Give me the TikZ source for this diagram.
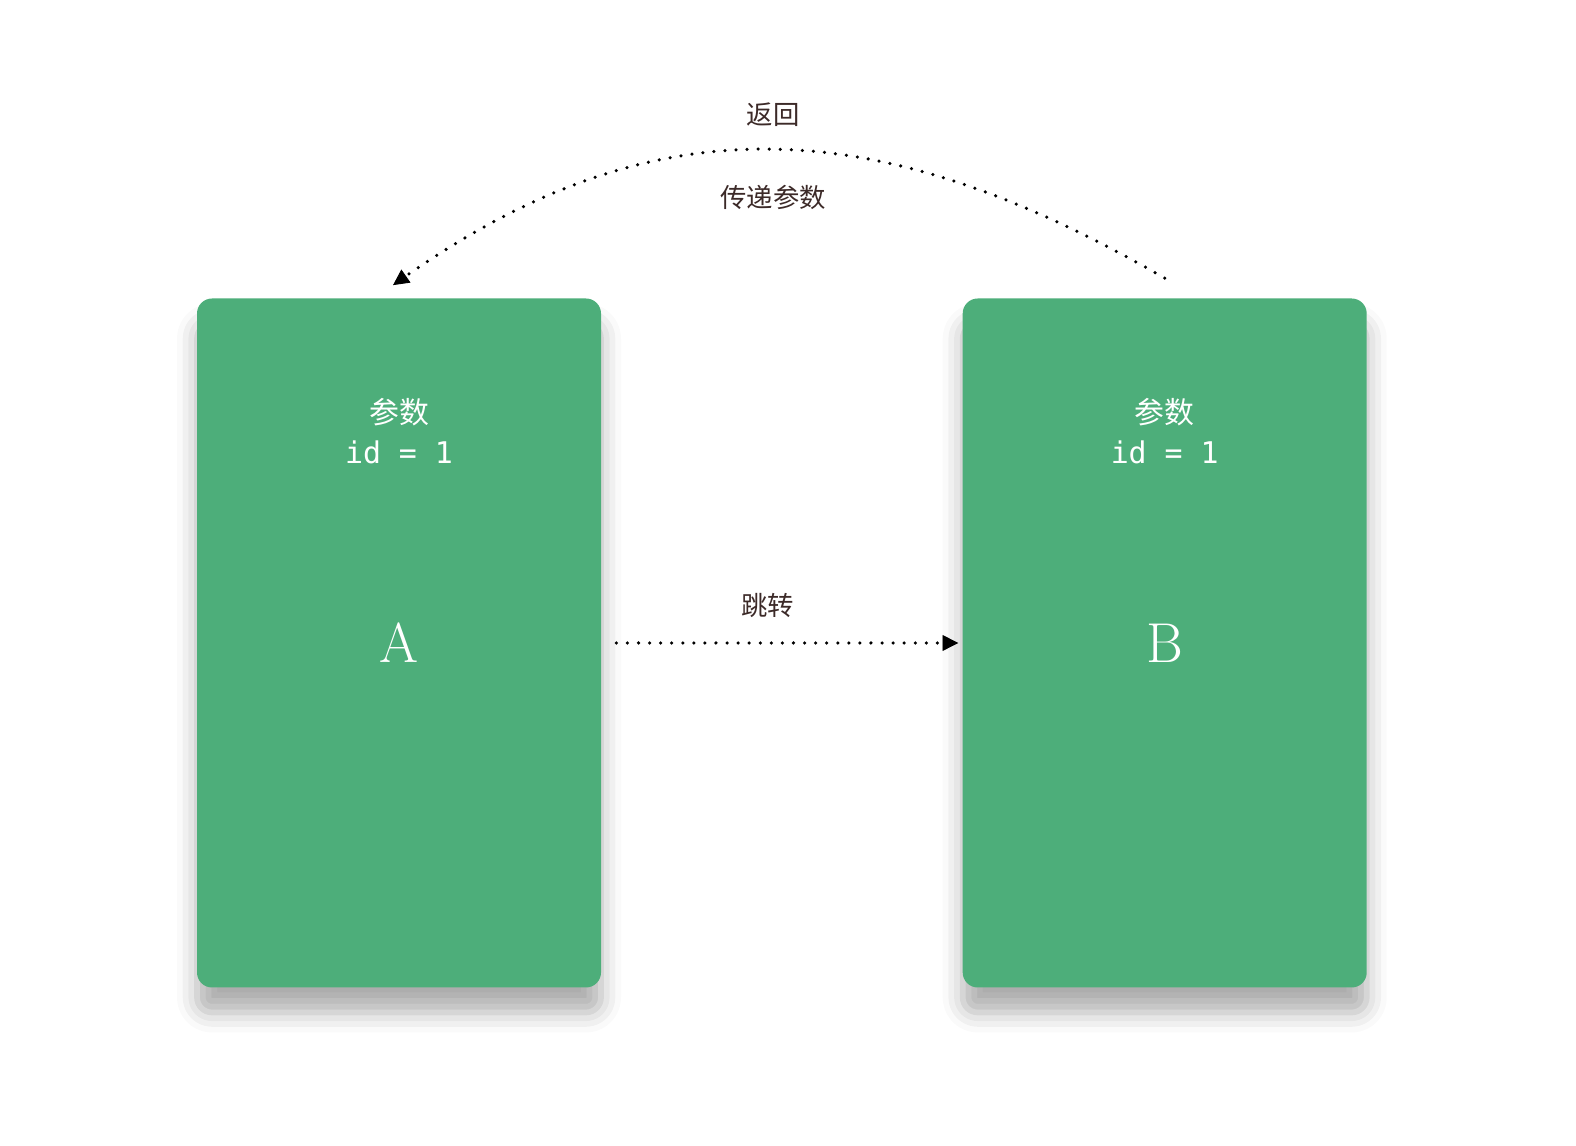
\documentclass[tikz,border=0pt]{standalone}
\usepackage{fontspec}
\setmonofont{DejaVu Sans Mono}
\newfontfamily\cjk{Noto Sans CJK SC}
\usetikzlibrary{arrows.meta,positioning,shadows.blur}

\definecolor{cardgreen}{RGB}{77,174,122}
\definecolor{labelbrown}{RGB}{60,42,40}

\begin{document}
\begin{tikzpicture}[
		card/.style={rectangle,rounded corners=0.3cm,fill=cardgreen,text=white,
			minimum width=8.08cm,minimum height=13.78cm,inner sep=0pt,
			font=\fontsize{32}{36}\selectfont,
			blur shadow={shadow xshift=0cm,shadow yshift=-0.5cm,
				shadow blur radius=0.4cm,shadow opacity=32}},
		param/.style={text=white,align=center,font=\fontsize{17}{22.7}\selectfont},
		flowlabel/.style={text=labelbrown,font=\cjk\fontsize{15}{18}\selectfont},
		dots/.style={line width=2pt,line cap=round,dash pattern=on 0pt off 6.3pt,
			-{Triangle[length=9pt,width=9pt,line width=0.5pt]}}
	]
		\useasboundingbox (0,0) rectangle (31.52,22.92);
		
		\node[card] (cardA) at (7.98,10.06) {A};
		\node[card,right=7.22cm of cardA] (cardB) {B};
		
		\node[param] (paramA) at ([yshift=4.24cm]cardA.center) {{\cjk 参数}\\\texttt{id = 1}};
		\node[param] (paramB) at ([yshift=4.24cm]cardB.center) {{\cjk 参数}\\\texttt{id = 1}};
		
		% jump A -> B
		\draw[dots,shorten <=0.3cm,shorten >=0.08cm] (cardA.east) -- (cardB.west)
		node[flowlabel,midway,xshift=-0.28cm,yshift=0.74cm] (jump) {跳转};
		
		% return B -> A
		\draw[dots] ([yshift=0.4cm]cardB.north) to[out=150,in=35,looseness=1.08]
		node[flowlabel,pos=0.5,yshift=0.72cm] (back) {返回}
		node[flowlabel,pos=0.5,yshift=-0.94cm] (pass) {传递参数}
		([shift={(-0.12,0.26)}]cardA.north);
		
	\end{tikzpicture}
\end{document}
